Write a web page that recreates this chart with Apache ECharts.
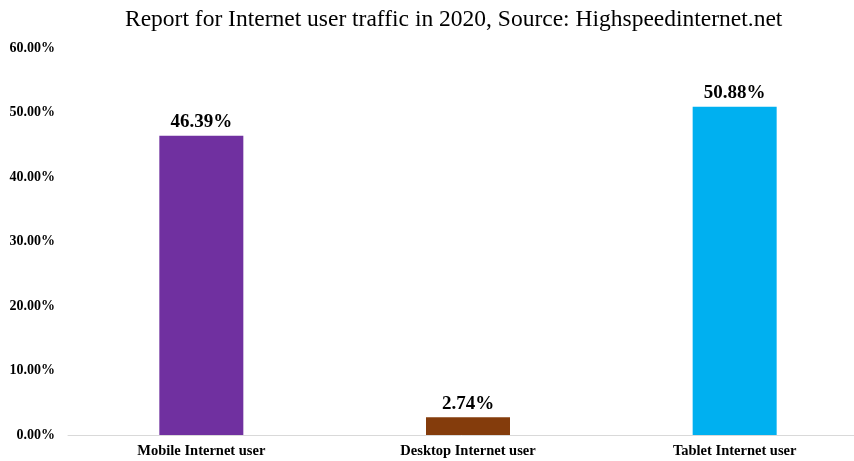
<!DOCTYPE html>
<html>
<head>
<meta charset="utf-8">
<script src="https://cdn.jsdelivr.net/npm/echarts@6/dist/echarts.min.js"></script>
<style>
  html, body { margin: 0; padding: 0; background: #fff; }
  #chart { width: 854px; height: 461px; }
</style>
</head>
<body>
<div id="chart"></div>
<script>
const categories = ['Mobile Internet user', 'Desktop Internet user', 'Tablet Internet user'];
const shares = [46.39, 2.74, 50.88];
const barColors = ['#7030A0', '#843C0C', '#00B0F0'];

const chart = echarts.init(document.getElementById('chart'));
const serif = '"Liberation Serif", "Times New Roman", serif';

const option = {
  animation: false,
  title: {
    text: 'Report for Internet user traffic in 2020, Source: Highspeedinternet.net',
    left: 120,
    top: 3,
    textStyle: {
      fontFamily: serif,
      fontSize: 23.5,
      fontWeight: 'normal',
      color: '#000'
    }
  },
  grid: {
    left: 68,
    top: 48,
    width: 800,
    height: 387,
    outerBoundsMode: 'none'
  },
  xAxis: {
    type: 'category',
    data: categories,
    axisLine: { lineStyle: { color: '#d9d9d9', width: 1 } },
    axisTick: { show: false },
    axisLabel: {
      fontFamily: serif,
      fontWeight: 'bold',
      fontSize: 14.5,
      color: '#000',
      margin: 9
    }
  },
  yAxis: {
    type: 'value',
    min: 0,
    max: 60,
    interval: 10,
    splitLine: { show: false },
    axisLine: { show: false },
    axisTick: { show: false },
    axisLabel: {
      fontFamily: serif,
      fontWeight: 'bold',
      fontSize: 14,
      color: '#000',
      margin: 13,
      formatter: function (v) { return v.toFixed(2) + '%'; }
    }
  },
  series: [
    {
      type: 'bar',
      barWidth: 84,
      data: shares.map(function (v, i) {
        return { value: v, itemStyle: { color: barColors[i] } };
      }),
      label: {
        show: true,
        position: 'top',
        distance: 4,
        fontFamily: serif,
        fontWeight: 'bold',
        fontSize: 19,
        color: '#000',
        formatter: function (p) { return p.value.toFixed(2) + '%'; }
      }
    }
  ]
};
chart.setOption(option);
</script>
</body>
</html>
